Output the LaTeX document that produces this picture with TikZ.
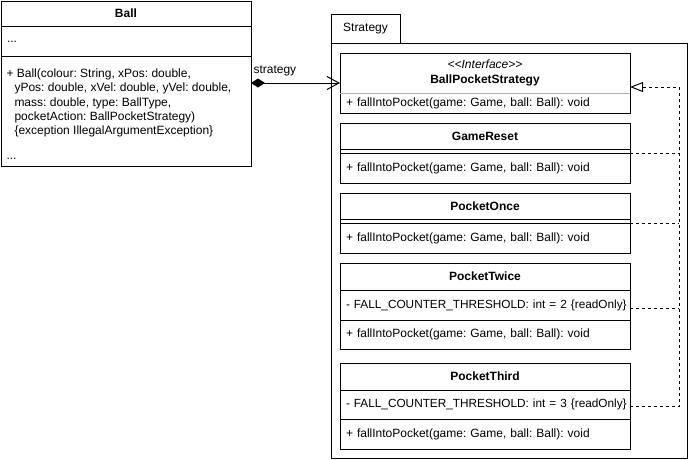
\documentclass[tikz,border=0pt]{standalone}
\usepackage{fontspec}
\setmainfont{Liberation Sans}
\usepackage{tikz}
\usetikzlibrary{arrows.meta}
\usetikzlibrary{positioning}
\frenchspacing
\hyphenpenalty=10000

\tikzset{
    umlbox/.style={draw, anchor=north west, outer sep=0pt, inner ysep=0pt},
    cls/.style={umlbox, inner xsep=0pt, text width=290pt, align=left, execute at begin node={\hspace*{6pt}}},
    clstitle/.style={umlbox, inner xsep=3pt, text width=284pt, align=center, font=\fontsize{12}{14.4}\selectfont\bfseries},
    gap/.style={umlbox, inner sep=0pt, minimum width=290pt, minimum height=4pt},
    txt/.style={inner sep=0pt, anchor=north west},
    dashline/.style={dash pattern=on 3pt off 3pt},
    realize/.style={dashline, -{Triangle[open, length=13pt, width=10pt]}},
    compo/.style={{Diamond[length=14pt, width=9pt]}-{Straight Barb[length=12pt, width=13pt]}}
}

\begin{document}
\begin{tikzpicture}[x=1pt, y=-1pt, line width=1pt, every node/.append style={font=\fontsize{12}{14.4}\selectfont}]

    \useasboundingbox (0,0) rectangle (693,459);

    % package
    \node[draw, anchor=north west, outer sep=0pt, minimum width=356pt, minimum height=415pt] (pkg) at (331,43) {};
    \node[draw, anchor=north west, outer sep=0pt, minimum width=69pt, minimum height=29pt] (pkg-tab) at (331,14) {Strategy};

    % Ball
    \node[clstitle, text width=244pt, minimum height=25pt] (ball) at (1,1) {Ball};
    \node[cls, text width=250pt, minimum height=30pt, below=0pt of ball] (ball-a) {\raisebox{-3pt}{...}};
    \node[cls, text width=250pt, minimum height=110pt, below=0pt of ball-a] (ball-m) {};
    \node[txt, align=left, below right=12pt and 5pt of ball-m.north west] (ball-ops) {+ Ball(colour: String, xPos: double,\\
        \hspace*{8pt}yPos: double, xVel: double, yVel: double,\\
        \hspace*{8pt}mass: double, type: BallType,\\
        \hspace*{8pt}pocketAction: BallPocketStrategy)\\
        \hspace*{8pt}\{exception IllegalArgumentException\}};
    \node[inner sep=0pt, above right=6pt and 5pt of ball-m.south west] (ball-more) {...};

    % interface
    \node[clstitle, minimum height=40pt] (bps) at (340,53) {{\mdseries\itshape <{}<Interface>{}>}\\BallPocketStrategy};
    \node[cls, minimum height=20pt, below=0pt of bps] (bps-m) {+ fallIntoPocket(game: Game, ball: Ball): void};
    \draw[gray!60] (bps-m.north west) -- (bps-m.north east);

    \node[clstitle, minimum height=26pt] (gr) at (340,123) {GameReset};
    \node[gap, below=0pt of gr] (gr-g) {};
    \node[cls, minimum height=30pt, below=0pt of gr-g] (gr-m) {+ fallIntoPocket(game: Game, ball: Ball): void};

    \node[clstitle, minimum height=26pt] (po) at (340,193) {PocketOnce};
    \node[gap, below=0pt of po] (po-g) {};
    \node[cls, minimum height=30pt, below=0pt of po-g] (po-m) {+ fallIntoPocket(game: Game, ball: Ball): void};

    \node[clstitle, minimum height=27pt] (ptw) at (340,263) {PocketTwice};
    \node[cls, minimum height=30pt, below=0pt of ptw] (ptw-a) {\mbox{\fontsize{11.8}{14.4}\selectfont - FALL\_COUNTER\_THRESHOLD: int = 2 \{readOnly\}}};
    \node[cls, minimum height=29pt, below=0pt of ptw-a] (ptw-m) {+ fallIntoPocket(game: Game, ball: Ball): void};

    \node[clstitle, minimum height=27pt] (pth) at (340,363) {PocketThird};
    \node[cls, minimum height=29pt, below=0pt of pth] (pth-a) {\mbox{\fontsize{11.8}{14.4}\selectfont - FALL\_COUNTER\_THRESHOLD: int = 3 \{readOnly\}}};
    \node[cls, minimum height=30pt, below=0pt of pth-a] (pth-m) {+ fallIntoPocket(game: Game, ball: Ball): void};

    % connectors
    \coordinate (strat) at ([yshift=-10pt]bps.west);
    \draw[compo] (ball-m.east |- strat) -- node[pos=0, inner sep=0pt, above right=7pt and 2pt] (strat-lbl) {strategy} (strat);

    \coordinate (impl-tip) at ([yshift=-14pt]bps.east);
    \coordinate (rail) at ([xshift=49pt]impl-tip);
    \draw[realize] ([yshift=-2pt]pth-a.east) -| (rail) -- (impl-tip);
    \draw[dashline] ([yshift=-3pt]ptw-a.east) -- ([yshift=-3pt]ptw-a.east -| rail);
    \draw[dashline] ([yshift=-2pt]po-g.east) -- ([yshift=-2pt]po-g.east -| rail);
    \draw[dashline] ([yshift=-2pt]gr-g.east) -- ([yshift=-2pt]gr-g.east -| rail);

\end{tikzpicture}
\end{document}
